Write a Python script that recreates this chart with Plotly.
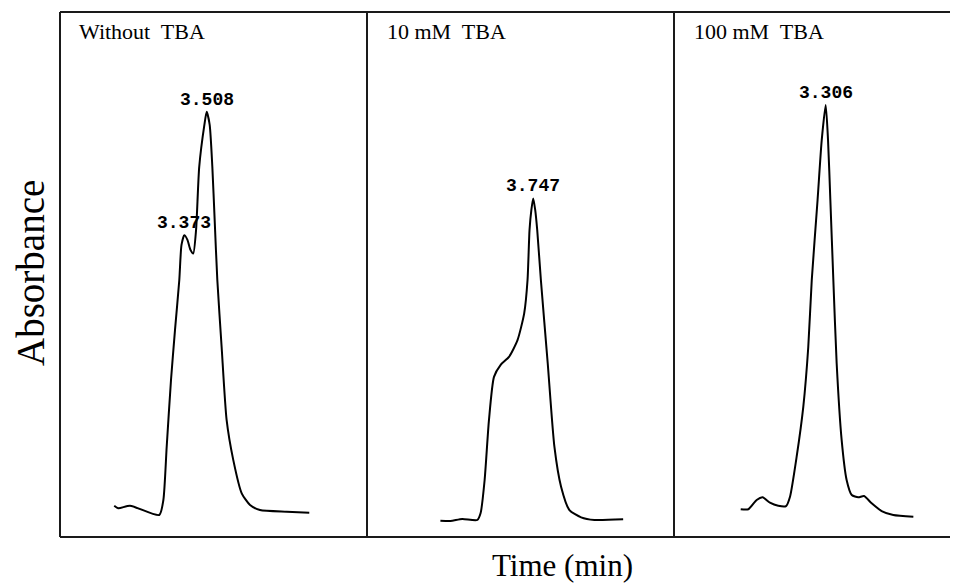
import plotly.graph_objects as go

# ---- data (time in min, absorbance in arbitrary units) ----
t_without = [2.951, 2.976, 3.046, 3.222, 3.247, 3.267, 3.293, 3.317, 3.343, 3.356,
             3.373, 3.392, 3.410, 3.427, 3.444, 3.463, 3.494, 3.508, 3.526, 3.542,
             3.556, 3.572, 3.598, 3.628, 3.668, 3.719, 3.769, 3.829, 3.990, 4.126]
abs_without = [5.96, 5.47, 5.96, 4.19, 7.05, 17.2, 29.9, 39.4, 48.95, 55.6,
               57.5, 56.6, 54.7, 54.0, 58.5, 70.5, 78.5, 81.0, 78.5, 70.5,
               60.4, 48.95, 36.2, 22.3, 14.7, 8.32, 6.10, 5.14, 4.82, 4.63]

t_10mm = [3.191, 3.251, 3.322, 3.412, 3.432, 3.456, 3.482, 3.512, 3.552, 3.602,
          3.653, 3.693, 3.713, 3.725, 3.736, 3.747, 3.759, 3.771, 3.793, 3.834,
          3.874, 3.914, 3.964, 4.034, 4.114, 4.286]
abs_10mm = [3.10, 3.05, 3.43, 3.24, 4.57, 10.86, 22.3, 30.5, 32.8, 34.3,
            37.5, 42.6, 48.95, 58.5, 62.3, 64.5, 62.3, 58.5, 48.95, 33.1,
            17.2, 9.58, 5.14, 3.75, 3.24, 3.37]

t_100mm = [2.794, 2.840, 2.890, 2.926, 2.970, 3.020, 3.067, 3.091, 3.131, 3.171,
           3.201, 3.222, 3.257, 3.282, 3.306, 3.320, 3.334, 3.352, 3.372, 3.402,
           3.432, 3.463, 3.502, 3.537, 3.583, 3.643, 3.713, 3.834]
abs_100mm = [5.28, 5.28, 7.05, 7.56, 6.53, 5.96, 5.90, 7.68, 15.3, 24.8,
             36.2, 48.95, 64.2, 75.6, 82.3, 75.6, 64.2, 48.95, 33.1, 18.5,
             10.86, 8.0, 7.56, 7.81, 6.42, 4.95, 4.19, 3.87]

panel_titles = ["Without  TBA", "10 mM  TBA", "100 mM  TBA"]

# peak labels: (panel index, retention time, absorbance at apex, label)
peak_panel = [0, 0, 1, 2]
peak_times = [3.508, 3.373, 3.747, 3.306]
peak_abs = [81.0, 57.5, 64.5, 82.3]
peak_labels = ["3.508", "3.373", "3.747", "3.306"]

# ---- layout geometry (page body has an 8px default margin) ----
OFF = 8
W, H = 958 - OFF, 587 - OFF
ML, MT, MR = 60 - OFF, 12 - OFF, 0
PB = 537 - OFF            # bottom of plot area in figure pixels
MB = H - PB
pw = W - ML - MR
ph = PB - MT
div1 = (367 - 60) / pw
div2 = (674 - 60) / pw
domains = [[0, div1], [div1, div2], [div2, 1]]
xranges = [[2.6243, 4.4737], [2.7512, 4.5906], [2.3921, 4.1030]]

series = [(t_without, abs_without), (t_10mm, abs_10mm), (t_100mm, abs_100mm)]

fig = go.Figure()
for i, (tx, ay) in enumerate(series):
    suffix = "" if i == 0 else str(i + 1)
    fig.add_trace(go.Scatter(
        x=tx, y=ay, mode="lines",
        line=dict(color="black", width=2, shape="spline", smoothing=0.6),
        xaxis="x" + suffix, yaxis="y" + suffix, showlegend=False,
        hoverinfo="skip"))

ax_common = dict(showgrid=False, zeroline=False, showticklabels=False,
                 ticks="", showline=False, fixedrange=True)
layout_axes = {}
for i in range(3):
    suffix = "" if i == 0 else str(i + 1)
    layout_axes["xaxis" + suffix] = dict(domain=domains[i], range=xranges[i],
                                         anchor="y" + suffix, **ax_common)
    layout_axes["yaxis" + suffix] = dict(domain=[0, 1], range=[0, 100],
                                         anchor="x" + suffix, **ax_common)

frame_col = "#1a1a1a"
def pline(x0, x1, y0, y1):
    return dict(type="line", xref="paper", yref="paper", x0=x0, x1=x1,
                y0=y0, y1=y1, line=dict(color=frame_col, width=2))

shapes = [pline(0, 1, 1, 1), pline(0, 1, 0, 0), pline(0, 0, 0, 1),
          pline(div1, div1, 0, 1), pline(div2, div2, 0, 1)]

serif = "Liberation Serif, Times New Roman, serif"
mono = "Liberation Mono, Courier New, monospace"

def px_x(x):  # reference page pixel -> paper x
    return (x - OFF - ML) / pw

def px_y(y):  # reference page pixel -> paper y
    return (PB - (y - OFF)) / ph

annotations = []
title_x_px = [77, 385, 692]
for i, ttl in enumerate(panel_titles):
    annotations.append(dict(
        text=ttl, xref="paper", yref="paper",
        x=px_x(title_x_px[i]), y=px_y(31),
        xanchor="left", yanchor="middle", showarrow=False,
        font=dict(family=serif, size=22, color="black")))

for p, tx, ay, lab in zip(peak_panel, peak_times, peak_abs, peak_labels):
    suffix = "" if p == 0 else str(p + 1)
    annotations.append(dict(
        text=f"<b>{lab}</b>", xref="x" + suffix, yref="y" + suffix,
        x=tx, y=ay, xanchor="center", yanchor="bottom", yshift=0,
        showarrow=False, font=dict(family=mono, size=18, color="black")))

annotations.append(dict(
    text="Absorbance", xref="paper", yref="paper",
    x=px_x(30), y=px_y(273), textangle=-90, borderpad=0,
    xanchor="center", yanchor="middle", showarrow=False,
    font=dict(family=serif, size=39, color="black")))
annotations.append(dict(
    text="Time (min)", xref="paper", yref="paper",
    x=px_x(562), y=px_y(565),
    xanchor="center", yanchor="middle", showarrow=False,
    font=dict(family=serif, size=31, color="black")))

fig.update_layout(
    width=W, height=H,
    margin=dict(l=ML, r=MR, t=MT, b=MB),
    paper_bgcolor="white", plot_bgcolor="white",
    shapes=shapes, annotations=annotations,
    **layout_axes)

fig.write_html("out.html")
